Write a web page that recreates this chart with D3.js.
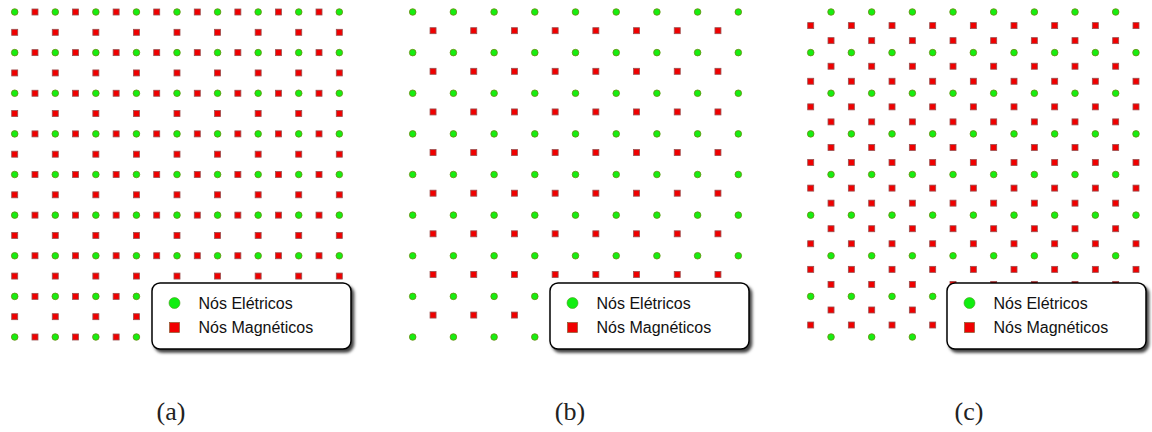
<!DOCTYPE html>
<html>
<head>
<meta charset="utf-8">
<script src="https://cdn.jsdelivr.net/npm/d3@7"></script>
<style>
  html, body { margin: 0; padding: 0; background: #fff; }
  svg { display: block; }
  .legend text { font-family: "Liberation Sans", Arial, sans-serif; font-size: 16px; fill: #111; }
  .caption { font-family: "Liberation Serif", "Times New Roman", serif; font-size: 26px; fill: #222; }
</style>
</head>
<body>
<div id="chart"></div>
<script>
// grid indices (in cell units)
var cols = [0, 1, 2, 3, 4, 5, 6, 7, 8];
var rows = [0, 1, 2, 3, 4, 5, 6, 7, 8];
var halfCols = [0.5, 1.5, 2.5, 3.5, 4.5, 5.5, 6.5, 7.5];
var gapRows = [0, 1, 2, 3, 4, 5, 6, 7];

// offset of the magnetic row in (b), and the two magnetic rows per gap in (c)
var staggerB = 0.46;
var hexOffsets = [0.335, 0.705];

var captions = ["(a)", "(b)", "(c)"];
var legendLabels = ["Nós Elétricos", "Nós Magnéticos"];

// pixel extents of each panel's lattice
var panelX = [[14.7, 339.3], [412.7, 738.3], [810.7, 1136]];
var panelY = [12, 337];
var captionX = [171, 570, 969];
var legendBox = [[152, 283], [550, 283], [947, 283]];

var width = 1152, height = 432;

var svg = d3.select("#chart").append("svg")
    .attr("width", width)
    .attr("height", height);

var defs = svg.append("defs");
var shadow = defs.append("filter").attr("id", "dropshadow")
    .attr("x", "-10%").attr("y", "-10%").attr("width", "130%").attr("height", "140%");
shadow.append("feDropShadow")
    .attr("dx", 2.5).attr("dy", 3)
    .attr("stdDeviation", 1.6)
    .attr("flood-color", "#000")
    .attr("flood-opacity", 0.75);

// build node sets for each panel
function yeeA() {
    var e = d3.cross(cols, rows, (i, j) => ({x: i, y: j}));
    var m = d3.cross(halfCols, rows, (i, j) => ({x: i, y: j}))
        .concat(d3.cross(cols, gapRows, (i, j) => ({x: i, y: j + 0.5})));
    return {e: e, m: m};
}

function yeeB() {
    var e = d3.cross(cols, rows, (i, j) => ({x: i, y: j}));
    var m = d3.cross(halfCols, gapRows, (i, j) => ({x: i, y: j + staggerB}));
    return {e: e, m: m};
}

function hexC() {
    var e = [];
    rows.forEach(function(j) {
        var xs = j % 2 ? cols : halfCols;
        xs.forEach(function(i) { e.push({x: i, y: j}); });
    });
    var m = [];
    gapRows.forEach(function(j) {
        // first sub-row sits under the gaps of the upper row, second over the gaps of the lower row
        var first = j % 2 ? halfCols : cols;
        var second = j % 2 ? cols : halfCols;
        first.forEach(function(i) { m.push({x: i, y: j + hexOffsets[0]}); });
        second.forEach(function(i) { m.push({x: i, y: j + hexOffsets[1]}); });
    });
    return {e: e, m: m};
}

var panels = [yeeA(), yeeB(), hexC()];

var yScale = d3.scaleLinear().domain([0, 8]).range(panelY);

panels.forEach(function(nodes, p) {
    var xScale = d3.scaleLinear().domain([0, 8]).range(panelX[p]);
    var g = svg.append("g").attr("class", "panel");

    g.selectAll("rect.mag")
        .data(nodes.m)
        .enter()
        .append("rect")
        .attr("class", "mag")
        .attr("x", d => xScale(d.x) - 3)
        .attr("y", d => yScale(d.y) - 3)
        .attr("width", 6)
        .attr("height", 6)
        .style("fill", "#f00000")
        .style("stroke", "#9a5050")
        .style("stroke-width", 0.8);

    g.selectAll("circle.elec")
        .data(nodes.e)
        .enter()
        .append("circle")
        .attr("class", "elec")
        .attr("cx", d => xScale(d.x))
        .attr("cy", d => yScale(d.y))
        .attr("r", 3.3)
        .style("fill", "#16ee10")
        .style("stroke", "#6b8a10")
        .style("stroke-width", 0.8);

    // legend box
    var lg = g.append("g")
        .attr("class", "legend")
        .attr("transform", "translate(" + legendBox[p][0] + "," + legendBox[p][1] + ")");

    lg.append("rect")
        .attr("width", 199)
        .attr("height", 66)
        .attr("rx", 8)
        .attr("ry", 8)
        .style("fill", "#fff")
        .style("stroke", "#000")
        .style("stroke-width", 1.5)
        .attr("filter", "url(#dropshadow)");

    var item = lg.selectAll("g.item")
        .data(legendLabels)
        .enter()
        .append("g")
        .attr("class", "item")
        .attr("transform", (d, i) => "translate(0," + (20 + i * 24.5) + ")");

    item.filter((d, i) => i === 0).append("circle")
        .attr("cx", 22.5)
        .attr("cy", 0)
        .attr("r", 5.5)
        .style("fill", "#10ee10")
        .style("stroke", "#4a9a20")
        .style("stroke-width", 0.6);

    item.filter((d, i) => i === 1).append("rect")
        .attr("x", 17.5)
        .attr("y", -5)
        .attr("width", 10)
        .attr("height", 10)
        .style("fill", "#f00000")
        .style("stroke", "#8a5a30")
        .style("stroke-width", 0.7);

    item.append("text")
        .attr("x", 46.5)
        .attr("y", 5.5)
        .text(d => d);

    svg.append("text")
        .attr("class", "caption")
        .attr("x", captionX[p])
        .attr("y", 420)
        .attr("text-anchor", "middle")
        .text(captions[p]);
});
</script>
</body>
</html>
